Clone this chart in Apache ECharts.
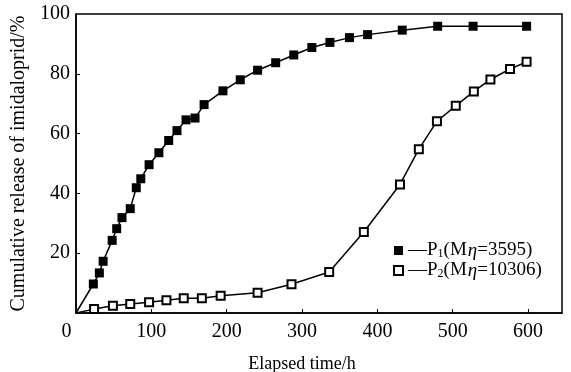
<!DOCTYPE html>
<html><head><meta charset="utf-8">
<script src="https://cdn.jsdelivr.net/npm/echarts@6/dist/echarts.min.js"></script>
<style>html,body{margin:0;padding:0;background:#fff}#c{width:571px;height:372px}</style>
</head><body><div id="c"></div>
<script>
// Data
var p1Time = [0, 23, 31, 36, 48, 54, 61, 72, 80, 86, 97, 110, 123, 134, 146, 158, 170, 195, 218, 241, 265, 289, 313, 337, 363, 387, 433, 480, 527, 598];
var p1Release = [0, 9.7, 13.4, 17.3, 24.3, 28.2, 31.9, 34.9, 41.9, 44.9, 49.6, 53.6, 57.7, 61, 64.6, 65.2, 69.7, 74.3, 78, 81.2, 83.7, 86.3, 88.8, 90.5, 92.1, 93.1, 94.6, 95.9, 95.9, 95.9];
var p2Time = [0, 24, 49, 72, 97, 120, 143, 167, 192, 241, 286, 336, 382, 430, 455, 479, 504, 528, 550, 576, 598];
var p2Release = [0, 1.3, 2.4, 3, 3.6, 4.3, 4.9, 4.9, 5.8, 6.8, 9.6, 13.7, 27.1, 43, 54.8, 64.1, 69.3, 74.1, 78.1, 81.6, 84];
var seriesNames = ['P1', 'P2'];
var seriesLegend = ['{d|—}P{s|1}(M{i|η}=3595)', '{d|—}P{s|2}(M{i|η}=10306)'];
var xTicks = [0, 100, 200, 300, 400, 500, 600];
var yTicks = [0, 20, 40, 60, 80, 100];
var xName = 'Elapsed time/h';
var yName = 'Cumulative release of imidaloprid/%';

var FONT = '"Liberation Serif", "Times New Roman", serif';
function pts(t, v) {
  return t.map(function (x, i) {
    var d = { value: [x, v[i]] };
    if (i === 0) d.symbol = 'none';
    return d;
  });
}
var chart = echarts.init(document.getElementById('c'), null, { renderer: 'canvas' });
chart.setOption({
  animation: false,
  backgroundColor: '#fff',
  grid: { left: 76, right: 9, top: 14, bottom: 59, outerBoundsMode: 'none', containLabel: false, show: true, borderColor: '#000', borderWidth: 1.5, backgroundColor: 'transparent' },
  xAxis: {
    type: 'value', min: 0, max: 645, interval: 100,
    name: xName, nameLocation: 'middle', nameGap: 42,
    nameTextStyle: { fontFamily: FONT, fontSize: 18, color: '#000', padding: [0, 34, 0, 0] },
    axisLine: { show: true, lineStyle: { color: '#000', width: 1.5 } },
    axisTick: { show: true, inside: true, length: 4, lineStyle: { color: '#000', width: 1 }, customValues: xTicks.slice(1) },
    splitLine: { show: false },
    axisLabel: {
      customValues: xTicks,
      margin: 9, fontFamily: FONT, fontSize: 20, color: '#000',
      formatter: function (v) { return v === 0 ? '{z|0}' : String(v); },
      rich: { z: { fontFamily: FONT, fontSize: 20, color: '#000', padding: [0, 19, 0, 0] } }
    }
  },
  yAxis: {
    type: 'value', min: 0, max: 100, interval: 20,
    name: yName, nameLocation: 'middle', nameGap: 47, nameRotate: 90,
    nameTextStyle: { fontFamily: FONT, fontSize: 20, color: '#000' },
    axisLine: { show: true, lineStyle: { color: '#000', width: 1.5 } },
    axisTick: { show: true, inside: true, length: 4, lineStyle: { color: '#000', width: 1 }, customValues: yTicks.slice(1, 5) },
    splitLine: { show: false },
    axisLabel: { customValues: yTicks.slice(1), margin: 6, fontFamily: FONT, fontSize: 20, color: '#000' }
  },
  legend: {
    orient: 'vertical', left: 388, top: 236, itemWidth: 9, itemHeight: 9, itemGap: 1,
    data: [
      { name: seriesNames[0], icon: 'rect' },
      { name: seriesNames[1], icon: 'emptyRect' }
    ],
    formatter: function (n) { return seriesLegend[seriesNames.indexOf(n)]; },
    textStyle: {
      fontFamily: FONT, fontSize: 19, color: '#000', lineHeight: 18,
      rich: {
        d: { fontFamily: FONT, fontSize: 19, color: '#000', lineHeight: 18 },
        s: { fontFamily: FONT, fontSize: 12, color: '#000', verticalAlign: 'bottom', lineHeight: 18, padding: [6, 0, 0, 0] },
        i: { fontFamily: FONT, fontSize: 19, color: '#000', fontStyle: 'italic', lineHeight: 18, padding: [0, 0, 0, 1] }
      }
    }
  },
  series: [
    {
      name: seriesNames[0], type: 'line', data: pts(p1Time, p1Release),
      symbol: 'rect', symbolSize: 9,
      lineStyle: { color: '#000', width: 1.5 },
      itemStyle: { color: '#000', borderColor: '#000', borderWidth: 0 }
    },
    {
      name: seriesNames[1], type: 'line', data: pts(p2Time, p2Release),
      symbol: 'emptyRect', symbolSize: 8,
      lineStyle: { color: '#000', width: 1.5 },
      itemStyle: { color: '#000', borderColor: '#000', borderWidth: 1.2 }
    }
  ]
});
</script></body></html>
